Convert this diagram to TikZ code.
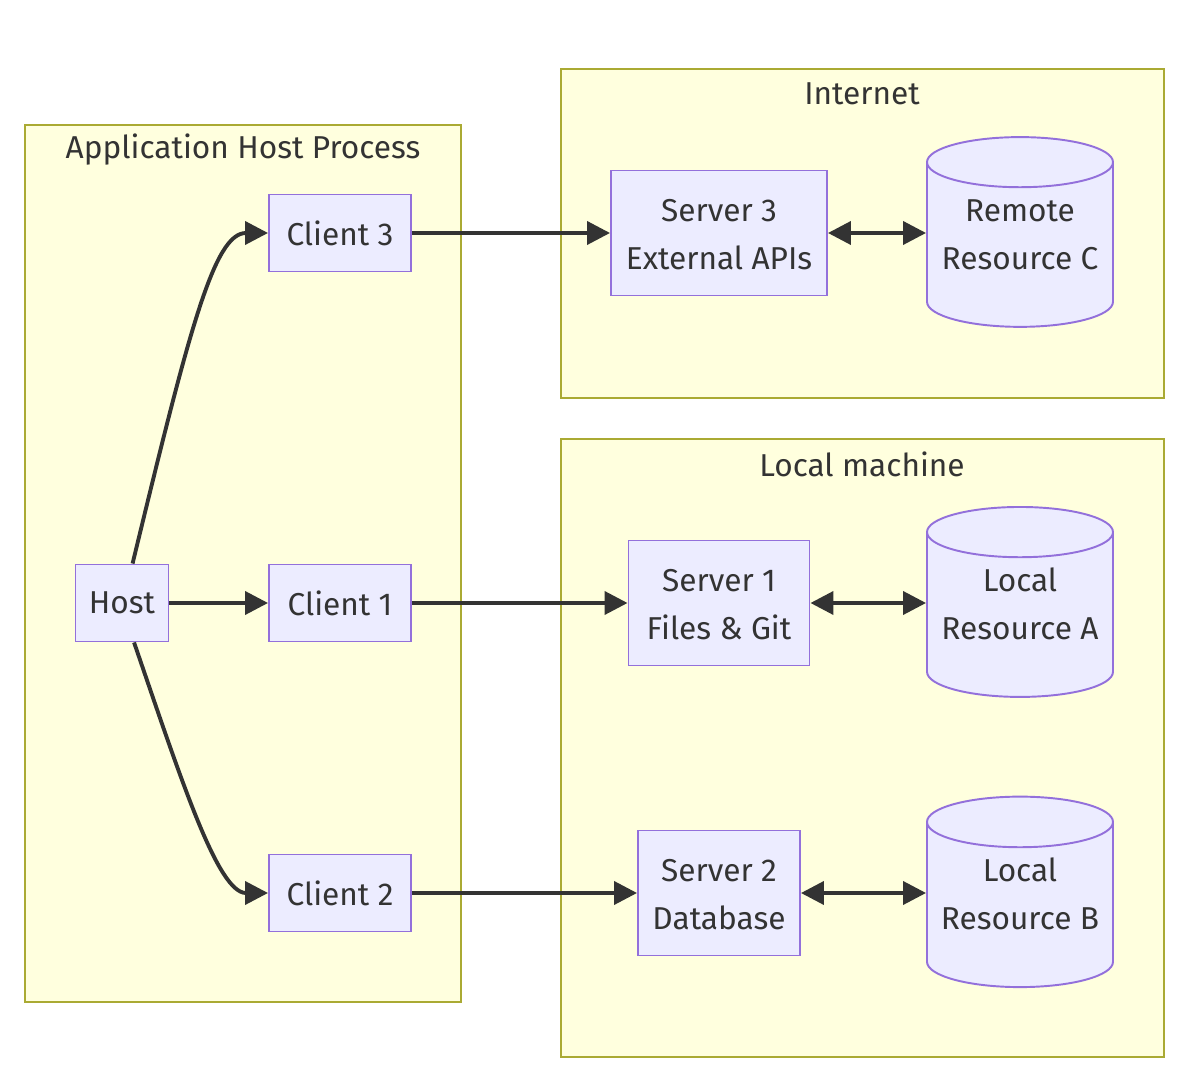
\documentclass[tikz,border=0pt]{standalone}
\usepackage{fontspec}
\setmainfont{Fira Sans}
\usetikzlibrary{arrows.meta,shapes.geometric,positioning}

\definecolor{clfill}{HTML}{FFFFDE}
\definecolor{cldraw}{HTML}{AAAA33}
\definecolor{ndfill}{HTML}{ECECFF}
\definecolor{nddraw}{HTML}{9370DB}
\definecolor{ink}{HTML}{333333}

\tikzset{
  every node/.style={text=ink, font=\fontsize{18pt}{27.2pt}\selectfont},
  group/.style={fill=clfill, draw=cldraw, line width=1.1pt},
  box/.style={draw=nddraw, fill=ndfill, line width=1.1pt, minimum height=1.54cm, inner sep=0pt},
  store/.style={cylinder, shape border rotate=90, aspect=0.32, draw=nddraw, fill=ndfill, line width=1.1pt,
    minimum width=3.72cm, minimum height=3.78cm, inner sep=0pt},
  flow/.style={draw=ink, line width=2.2pt, -{Triangle[length=0.46cm,width=0.46cm]}},
  both/.style={flow, {Triangle[length=0.46cm,width=0.46cm]}-{Triangle[length=0.46cm,width=0.46cm]}},
}

\begin{document}
\begin{tikzpicture}
\useasboundingbox (0,0) rectangle (23.84,21.64);

\path[shape=coordinate]
(0.50,19.14) coordinate(g11) (9.22,1.60) coordinate(g12)
(11.22,20.26) coordinate(g21) (23.28,13.68) coordinate(g22)
(11.22,12.86) coordinate(g31) (23.28,0.50) coordinate(g32);
\filldraw[group] (g11) rectangle (g12);
\filldraw[group] (g21) rectangle (g22);
\filldraw[group] (g31) rectangle (g32);

\node[draw=none] at (4.86,18.64) (apptitle) {Application Host Process};
\node[draw=none] at (17.24,19.76) (nettitle) {Internet};
\node[draw=none] at (17.24,12.36) (loctitle) {Local machine};

\node[box, minimum width=1.86cm] at (2.44,9.58) (host) {Host};
\node[box, minimum width=2.84cm] at (6.80,16.98) (client3) {Client 3};
\node[box, minimum width=2.84cm] at (6.80,9.58) (client1) {Client 1};
\node[box, minimum width=2.84cm] at (6.80,3.78) (client2) {Client 2};

\node[box, minimum width=4.32cm, minimum height=2.50cm] at (14.38,16.98) (server3){
\begin{tabular}{@{}c@{}}
Server 3 \\
External APIs \\[-0.12cm]
\end{tabular}};
\node[box, minimum width=3.62cm, minimum height=2.50cm] at (14.38,9.58) (server1){
\begin{tabular}{@{}c@{}}
Server 1 \\
Files \& Git \\[-0.12cm]
\end{tabular}};
\node[box, minimum width=3.24cm, minimum height=2.50cm] at (14.38,3.78) (server2){
\begin{tabular}{@{}c@{}}
Server 2 \\
Database \\[-0.12cm]
\end{tabular}};

% cylinders sit lower, text pushed back up
\node[store] at (20.40,16.74) (resc){
\begin{tabular}{@{}c@{}}
Remote \\
Resource C \\[0.36cm]
\end{tabular}};
\node[store] at (20.40,9.34) (resa){
\begin{tabular}{@{}c@{}}
Local \\
Resource A \\[0.36cm]
\end{tabular}};
\node[store] at (20.40,3.54) (resb){
\begin{tabular}{@{}c@{}}
Local \\
Resource B \\[0.36cm]
\end{tabular}};

\draw[flow] (host.75) .. controls +(1.14,4.70) and +(-1.08,0) .. (client3.west);
\draw[flow] (host) -- (client1);
\draw[flow] (host.-73) .. controls +(0.96,-2.80) and +(-1.00,0) .. (client2.west);

\draw[flow] (client3) -- (server3);
\draw[flow] (client1) -- (server1);
\draw[flow] (client2) -- (server2);

\draw[both] (server3) -- (server3 -| resc.west);
\draw[both] (server1) -- (server1 -| resa.west);
\draw[both] (server2) -- (server2 -| resb.west);

\end{tikzpicture}
\end{document}
